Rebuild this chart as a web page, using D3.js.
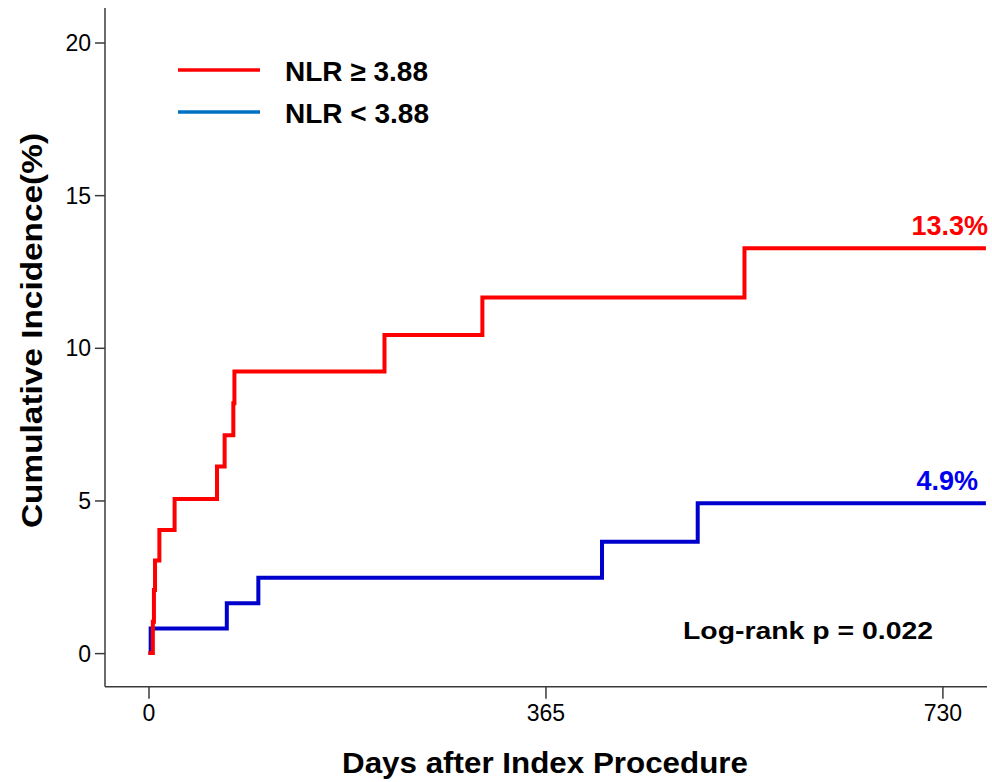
<!DOCTYPE html>
<html>
<head>
<meta charset="utf-8">
<script src="https://cdn.jsdelivr.net/npm/d3@7"></script>
<style>
  html, body { margin: 0; padding: 0; background: #fff; }
  svg { display: block; font-family: "Liberation Sans", Arial, sans-serif; }
</style>
</head>
<body>
<svg id="chart" width="992" height="782"></svg>
<script>
// ---- data ----
const highDays   = [0, 4, 5, 6, 10, 24, 63, 70, 78, 79, 217, 307, 548, 770];
const highValues = [0, 1.03, 2.07, 3.03, 4.03, 5.05, 6.11, 7.14, 8.18, 9.22, 10.42, 11.65, 13.26, 13.26];
const lowDays    = [0, 2, 72, 101, 417, 505, 770];
const lowValues  = [0, 0.81, 1.63, 2.47, 3.65, 4.91, 4.91];
const xTicks = [0, 365, 730];
const yTicks = [0, 5, 10, 15, 20];
const seriesNames = ["NLR \u2265 3.88", "NLR < 3.88"];
const endLabels = ["13.3%", "4.9%"];
const pText = "Log-rank p = 0.022";

const svg = d3.select("#chart");
const FONT = '"Liberation Sans", Arial, sans-serif';

const x = d3.scaleLinear().domain([-40, 771]).range([105, 987]);
const y = d3.scaleLinear().domain([-1.1, 21.13]).range([686.7, 8]);

const axisColor = "#3a3a3a";

// axes lines
svg.append("line").attr("x1", 105).attr("x2", 105).attr("y1", y.range()[1]).attr("y2", y.range()[0])
  .attr("stroke", axisColor).attr("stroke-width", 1.5);
svg.append("line").attr("x1", 105).attr("x2", 987).attr("y1", 686.7).attr("y2", 686.7)
  .attr("stroke", axisColor).attr("stroke-width", 1.5);

// y axis
const yAxis = d3.axisLeft(y).tickValues(yTicks).tickSize(10).tickSizeOuter(0).tickPadding(4).tickFormat(d3.format("d"));
const gy = svg.append("g").attr("transform", "translate(105,0)").call(yAxis);
gy.select(".domain").remove();
gy.selectAll(".tick line").attr("stroke", axisColor).attr("stroke-width", 1.5);
gy.selectAll(".tick text").attr("font-family", FONT).attr("font-size", 23).attr("fill", "#000")
  .attr("dy", null).attr("y", 0).attr("dominant-baseline", "central");

// x axis
const xAxis = d3.axisBottom(x).tickValues(xTicks).tickSize(12).tickSizeOuter(0).tickPadding(6).tickFormat(d3.format("d"));
const gx = svg.append("g").attr("transform", "translate(0,686.7)").call(xAxis);
gx.select(".domain").remove();
gx.selectAll(".tick line").attr("stroke", axisColor).attr("stroke-width", 1.5);
gx.selectAll(".tick text").attr("font-family", FONT).attr("font-size", 23).attr("fill", "#000");

// curves
const line = d3.line().x(d => x(d[0])).y(d => y(d[1])).curve(d3.curveStepAfter);
const high = highDays.map((d, i) => [d, highValues[i]]);
const low = lowDays.map((d, i) => [d, lowValues[i]]);

svg.append("path").datum(low).attr("d", line).attr("fill", "none")
  .attr("stroke", "#0000CD").attr("stroke-width", 4).attr("stroke-linejoin", "miter").attr("stroke-linecap", "butt");
svg.append("path").datum(high).attr("d", line).attr("fill", "none")
  .attr("stroke", "#FF0000").attr("stroke-width", 4).attr("stroke-linejoin", "miter").attr("stroke-linecap", "butt");

// legend
const legendColors = ["#FF0000", "#0070C0"];
const legendY = [70, 112];
seriesNames.forEach((name, i) => {
  svg.append("line").attr("x1", 178).attr("x2", 260).attr("y1", legendY[i]).attr("y2", legendY[i])
    .attr("stroke", legendColors[i]).attr("stroke-width", 3.5);
  svg.append("text").attr("x", 285).attr("y", legendY[i] + 11)
    .attr("font-family", FONT).attr("font-weight", "bold").attr("font-size", 28)
    .attr("fill", "#000").text(name);
});

// end labels
svg.append("text").attr("x", 988).attr("y", 234.5).attr("text-anchor", "end")
  .attr("font-family", FONT).attr("font-weight", "bold").attr("font-size", 27)
  .attr("fill", "#FF0000").text(endLabels[0]);
svg.append("text").attr("x", 978).attr("y", 490).attr("text-anchor", "end")
  .attr("font-family", FONT).attr("font-weight", "bold").attr("font-size", 27)
  .attr("fill", "#0000EE").text(endLabels[1]);

// log-rank
svg.append("text").attr("x", 683).attr("y", 639.3)
  .attr("font-family", FONT).attr("font-weight", "bold").attr("font-size", 23.5)
  .attr("textLength", 250).attr("lengthAdjust", "spacingAndGlyphs")
  .attr("fill", "#000").text(pText);

// axis titles
svg.append("text").attr("x", 545).attr("y", 772.7).attr("text-anchor", "middle")
  .attr("font-family", FONT).attr("font-weight", "bold").attr("font-size", 29.5)
  .attr("textLength", 406).attr("lengthAdjust", "spacingAndGlyphs")
  .attr("fill", "#000").text("Days after Index Procedure");

svg.append("text").attr("transform", "translate(41.7,330.5) rotate(-90)").attr("text-anchor", "middle")
  .attr("font-family", FONT).attr("font-weight", "bold").attr("font-size", 29.5)
  .attr("textLength", 395).attr("lengthAdjust", "spacingAndGlyphs")
  .attr("fill", "#000").text("Cumulative Incidence(%)");
</script>
</body>
</html>
